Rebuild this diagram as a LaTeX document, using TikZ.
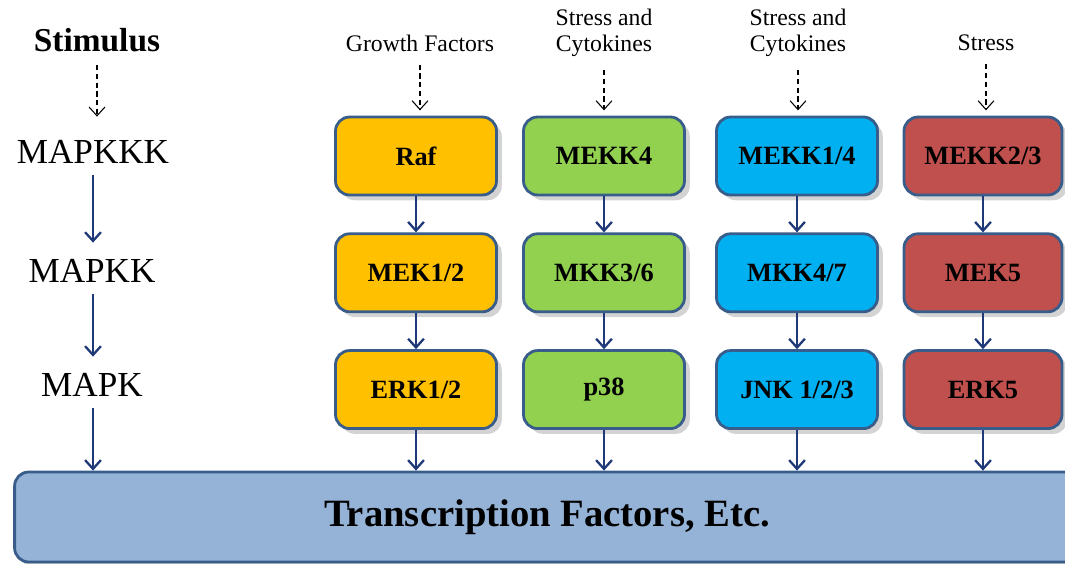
\documentclass[tikz,border=0pt]{standalone}
\usepackage{fontspec}
\setmainfont{Liberation Serif}
\usepackage{tikz}
\definecolor{rafYellow}{RGB}{255, 192, 0}
\definecolor{p38Green}{RGB}{146, 208, 80}
\definecolor{jnkBlue}{RGB}{0, 176, 240}
\definecolor{erkRed}{RGB}{192, 80, 77}
\definecolor{tfBlue}{RGB}{149, 179, 215}
\definecolor{edgeBlue}{RGB}{56, 93, 138}
\definecolor{arrowNavy}{RGB}{31, 56, 120}
\usetikzlibrary{arrows.meta, positioning, shadows}

\begin{document}
\begin{tikzpicture}[
    x=0.02cm, y=-0.02cm,
    kinase/.style={
        rectangle,
        rounded corners=8pt,
        draw=edgeBlue,
        line width=1.6pt,
        minimum width=3.22cm,
        minimum height=1.56cm,
        font=\rmfamily\fontsize{15}{17}\selectfont\bfseries,
        drop shadow={opacity=0.35, shadow xshift=3pt, shadow yshift=-3pt}
    },
    tier/.style={font=\rmfamily\fontsize{20}{22}\selectfont},
    cue/.style={font=\rmfamily\fontsize{13.5}{14.7}\selectfont, align=center},
    cascade/.style={-{Straight Barb[length=5pt,width=9pt]}, draw=arrowNavy, line width=1.3pt},
    signal/.style={-{Straight Barb[length=5pt,width=9pt]}, densely dashed, line width=0.6pt}
]
    \useasboundingbox (0,0) rectangle (1065,564);

    % left column: levels of the cascade
    \node[tier, font=\rmfamily\fontsize{19}{21}\selectfont\bfseries] (stim) at (97,40) {Stimulus};
    \node[tier] (mapkkk) at (93,152) {MAPKKK};
    \node[tier] (mapkk) at (92,271) {MAPKK};
    \node[tier] (mapk) at (92,385) {MAPK};

    % stimuli
    \node[cue] (growth) at (420,43) {Growth Factors};
    \node[cue] (stress1) at (604,33) {Stress and\\Cytokines};
    \node[cue] (stress2) at (798,33) {Stress and\\Cytokines};
    \node[cue] (stress3) at (986,43) {Stress};

    % kinase boxes
    \node[kinase, fill=rafYellow] (raf) at (416,156) {Raf};
    \node[kinase, fill=rafYellow, below=0.72cm of raf] (mek12) {MEK1/2};
    \node[kinase, fill=rafYellow, below=0.72cm of mek12] (erk12) {ERK1/2};

    \node[kinase, fill=p38Green] (mekk4) at (604,156) {MEKK4};
    \node[kinase, fill=p38Green, below=0.72cm of mekk4] (mkk36) {MKK3/6};
    \node[kinase, fill=p38Green, below=0.72cm of mkk36] (p38) {p38};

    \node[kinase, fill=jnkBlue] (mekk14) at (797,156) {MEKK1/4};
    \node[kinase, fill=jnkBlue, below=0.72cm of mekk14] (mkk47) {MKK4/7};
    \node[kinase, fill=jnkBlue, below=0.72cm of mkk47] (jnk) {JNK 1/2/3};

    \node[kinase, fill=erkRed, minimum width=3.16cm] (mekk23) at (983,156) {MEKK2/3};
    \node[kinase, fill=erkRed, minimum width=3.16cm, below=0.72cm of mekk23] (mek5) {MEK5};
    \node[kinase, fill=erkRed, minimum width=3.16cm, below=0.72cm of mek5] (erk5) {ERK5};

    % transcription factors
    \node[kinase, fill=tfBlue, minimum width=21.3cm, minimum height=1.8cm,
        font=\rmfamily\fontsize{22}{24}\selectfont\bfseries] (tf) at (547,517) {Transcription Factors, Etc.};

    % arrows
    \draw[signal, shorten <=4pt, shorten >=10pt] (stim.south) -- (stim.south |- mapkkk.north);
    \draw[cascade, shorten <=3pt, shorten >=6pt] (mapkkk.south) -- (mapkkk.south |- mapkk.north);
    \draw[cascade, shorten <=3pt, shorten >=6pt] (mapkkk.south |- mapkk.south) -- (mapkkk.south |- mapk.north);
    \draw[cascade, shorten <=3pt] (mapkkk.south |- mapk.south) -- (mapkkk.south |- tf.north);

    \foreach \s/\k in {growth/raf, stress1/mekk4, stress2/mekk14, stress3/mekk23}
        \draw[signal, shorten <=4pt, shorten >=3pt] (\s.south) -- (\s.south |- \k.north);

    \foreach \a/\b/\c in {raf/mek12/erk12, mekk4/mkk36/p38, mekk14/mkk47/jnk, mekk23/mek5/erk5} {
        \draw[cascade] (\a) -- (\b);
        \draw[cascade] (\b) -- (\c);
        \draw[cascade] (\c) -- (\c |- tf.north);
    }
\end{tikzpicture}
\end{document}
